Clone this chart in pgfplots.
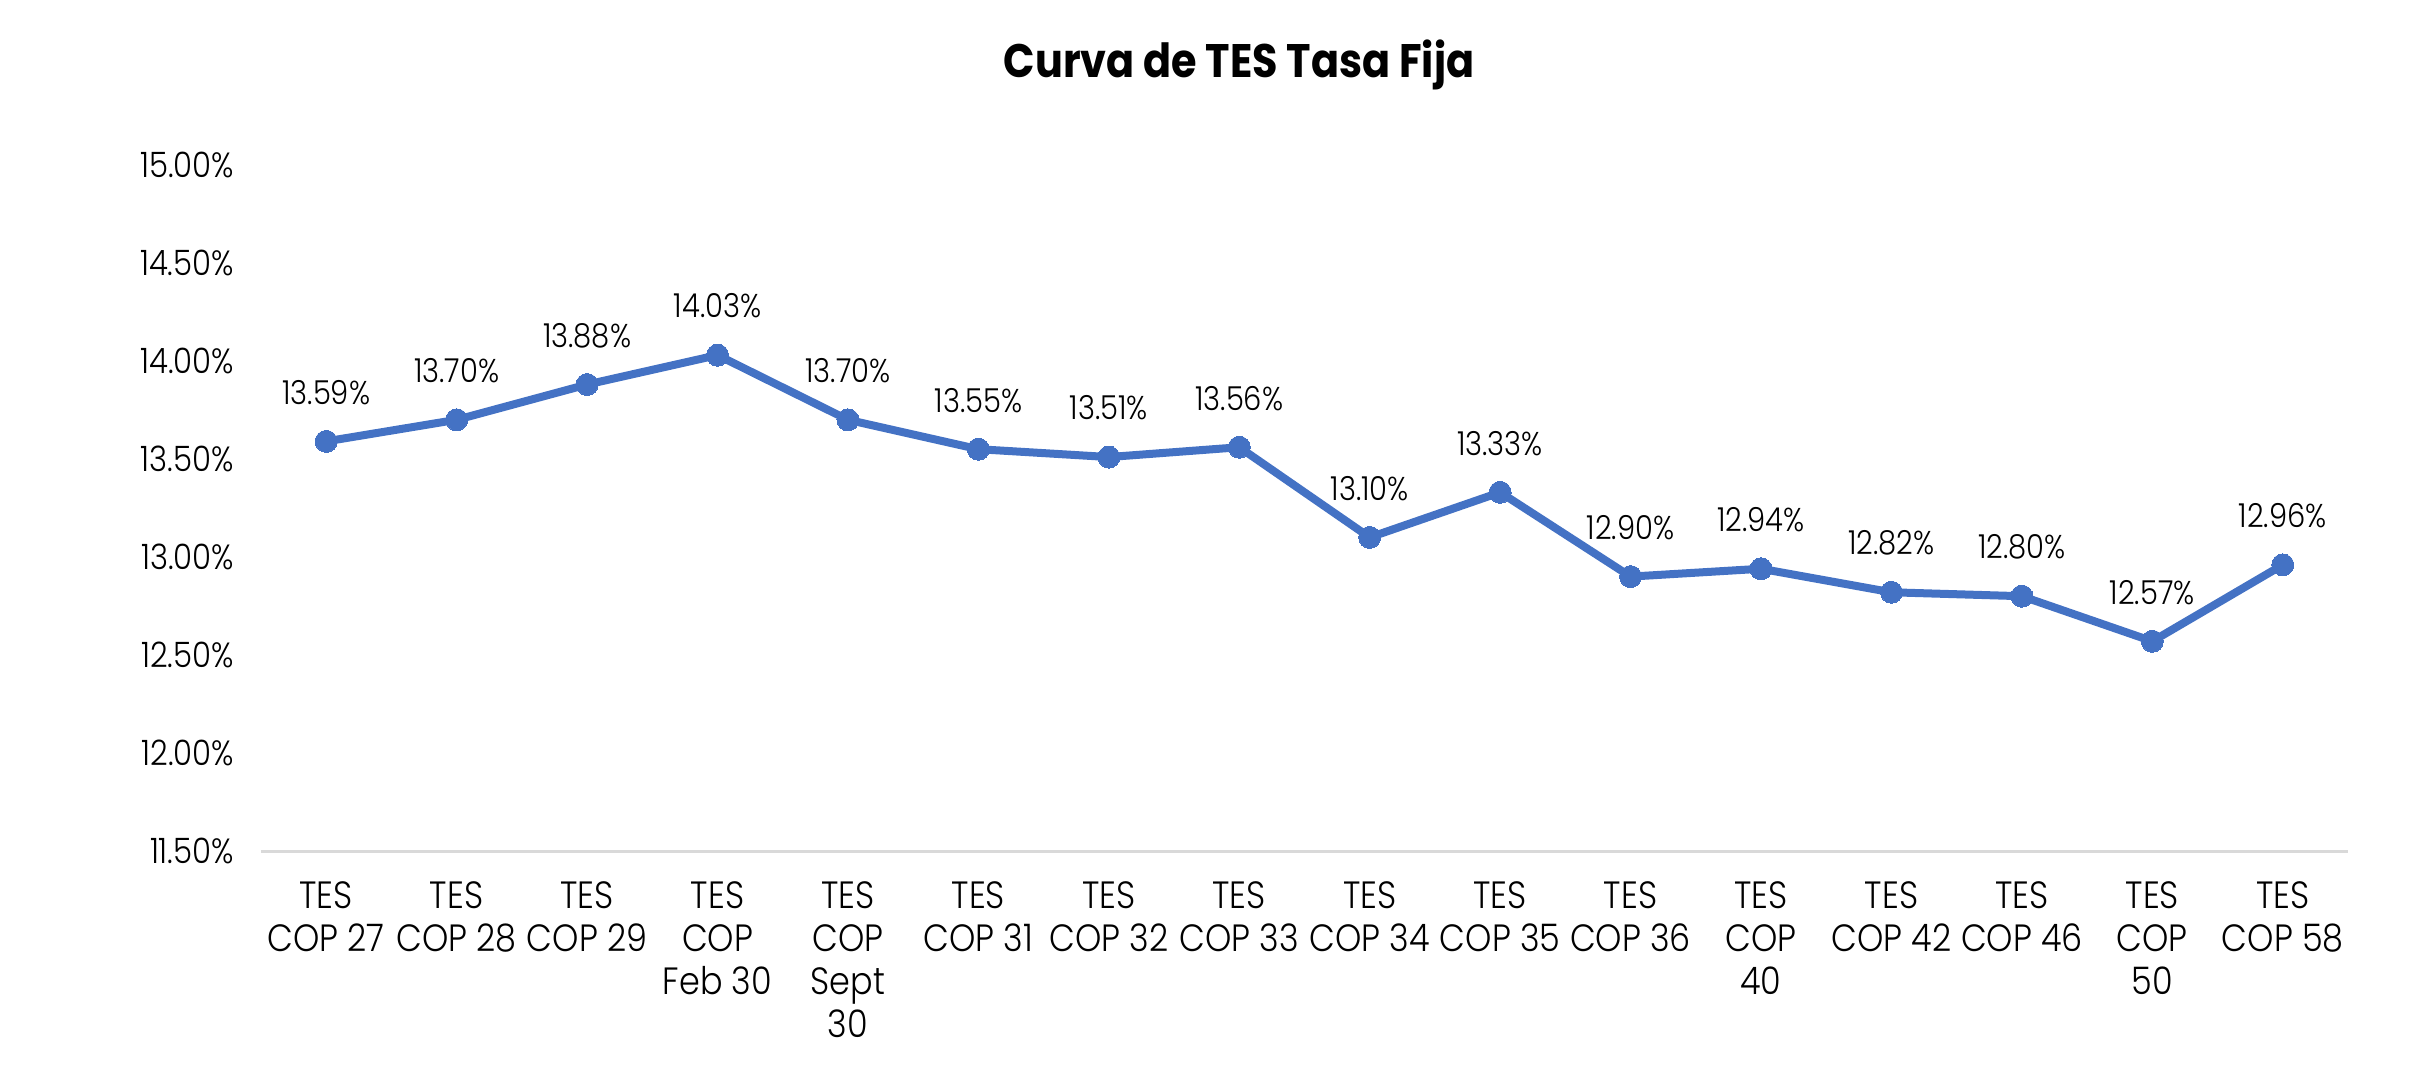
\documentclass[border=0pt]{standalone}
\usepackage{pgfplots}
\pgfplotsset{compat=1.18}
\usepackage{fontspec}
\setmainfont{Poppins}[FakeStretch=0.88, UprightFont=* Light, BoldFont=* Bold]
\definecolor{lineblue}{HTML}{4472C4}
\definecolor{axisgray}{HTML}{D9D9D9}
\begin{document}
\begin{tikzpicture}
\begin{axis}[
  at={(0,0)}, anchor=south west,
  scale only axis,
  width=1043.5pt, height=343pt,
  xmin=-0.5, xmax=15.5,
  ymin=11.5, ymax=15,
  ytick={11.5,12,12.5,13,13.5,14,14.5,15},
  xtick={0,...,15},
  xticklabels={{TES\\COP 27},{TES\\COP 28},{TES\\COP 29},{TES\\COP\\Feb 30},{TES\\COP\\Sept\\30},{TES\\COP 31},{TES\\COP 32},{TES\\COP 33},{TES\\COP 34},{TES\\COP 35},{TES\\COP 36},{TES\\COP\\40},{TES\\COP 42},{TES\\COP 46},{TES\\COP\\50},{TES\\COP 58}},
  xticklabel style={align=center, font=\fontsize{19}{21.5}\selectfont, anchor=north, yshift=-12pt},
  yticklabel={\pgfmathprintnumber[fixed,fixed zerofill,precision=2]{\tick}\%},
  yticklabel style={font=\fontsize{17.5}{20}\selectfont, anchor=east, xshift=-10pt},
  /pgf/number format/assume math mode=true,
  axis x line*=bottom,
  axis y line*=left,
  x axis line style={draw=axisgray, line width=1.5pt},
  y axis line style={draw=none},
  tick style={draw=none},
  clip=false,
  nodes near coords={\pgfmathprintnumber[fixed,fixed zerofill,precision=2]{\pgfplotspointmeta}\%},
  nodes near coords style={font=\fontsize{16.5}{18}\selectfont, anchor=center, yshift=24.5pt, text=black},
]
\addplot[color=lineblue, line width=4pt, mark=*, mark size=5.5pt, mark options={fill=lineblue, draw=lineblue, line width=0pt}]
coordinates {
(0,13.59) (1,13.70) (2,13.88) (3,14.03) (4,13.70) (5,13.55) (6,13.51) (7,13.56)
(8,13.10) (9,13.33) (10,12.90) (11,12.94) (12,12.82) (13,12.80) (14,12.57) (15,12.96)
};
\end{axis}
\node[font=\fontsize{23.5}{26}\bfseries\selectfont] at (489pt,393pt) {Curva de TES Tasa Fija};
\pgfresetboundingbox
\path[use as bounding box] (-130.5pt,-111pt) rectangle (1076.5pt,425.5pt);
\end{tikzpicture}
\end{document}
